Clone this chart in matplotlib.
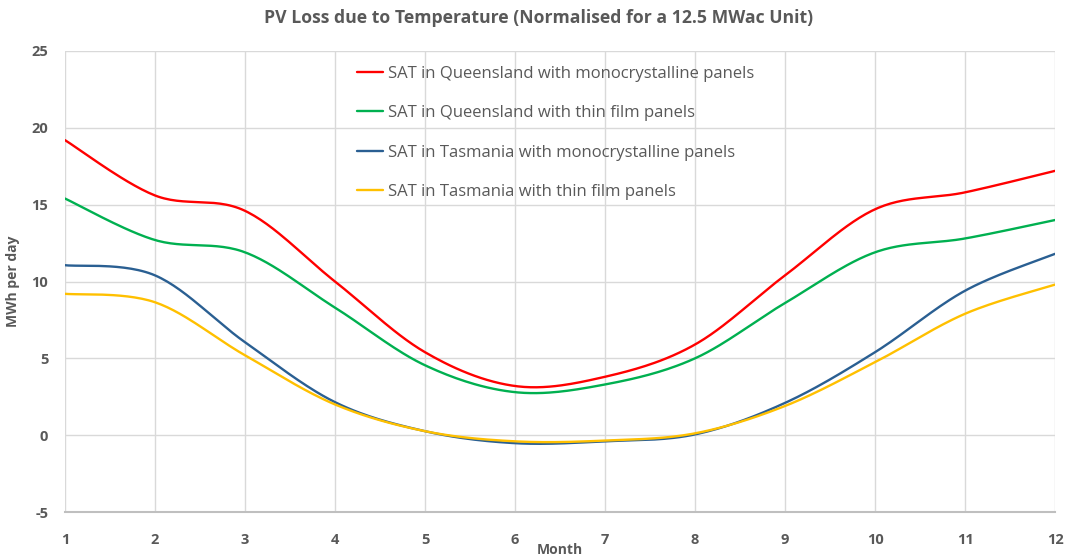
import numpy as np
import matplotlib
matplotlib.use('Agg')
import matplotlib.pyplot as plt

plt.rcParams['font.family'] = ['Open Sans', 'DejaVu Sans']
plt.rcParams['axes.unicode_minus'] = False

months = [1, 2, 3, 4, 5, 6, 7, 8, 9, 10, 11, 12]
qld_mono = [19.2, 15.6, 14.6, 10.0, 5.4, 3.2, 3.8, 5.9, 10.4, 14.7, 15.8, 17.2]
qld_thin = [15.4, 12.7, 11.9, 8.3, 4.55, 2.8, 3.3, 5.0, 8.6, 11.9, 12.8, 14.0]
tas_mono = [11.06, 10.4, 6.05, 2.15, 0.26, -0.52, -0.4, 0.05, 2.1, 5.4, 9.4, 11.8]
tas_thin = [9.2, 8.65, 5.2, 2.0, 0.26, -0.4, -0.35, 0.12, 1.9, 4.75, 7.9, 9.8]

labels = ['SAT in Queensland with monocrystalline panels',
          'SAT in Queensland with thin film panels',
          'SAT in Tasmania with monocrystalline panels',
          'SAT in Tasmania with thin film panels']
colors = ['#FF0000', '#00B050', '#2A5F92', '#FFC000']
series = [qld_mono, qld_thin, tas_mono, tas_thin]


def smooth(x, y, n=30):
    # excel-like smoothed line: bezier segments with catmull-rom control points
    x = np.asarray(x, float)
    y = np.asarray(y, float)
    p = np.column_stack([x, y])
    pts = []
    for i in range(len(p) - 1):
        p0 = p[i - 1] if i > 0 else p[i]
        p1 = p[i]
        p2 = p[i + 1]
        p3 = p[i + 2] if i + 2 < len(p) else p[i + 1]
        c1 = p1 + (p2 - p0) / 6.0
        c2 = p2 - (p3 - p1) / 6.0
        t = np.linspace(0, 1, n)[:, None]
        seg = ((1 - t) ** 3) * p1 + 3 * ((1 - t) ** 2) * t * c1 + 3 * (1 - t) * t ** 2 * c2 + t ** 3 * p2
        pts.append(seg if i == 0 else seg[1:])
    pts = np.vstack(pts)
    return pts[:, 0], pts[:, 1]


fig = plt.figure(figsize=(10.79, 5.56), dpi=100)
ax = fig.add_axes([0.0602, 0.0791, 0.9176, 0.8292])

for s, lab, col in zip(series, labels, colors):
    xs, ys = smooth(months, s)
    ax.plot(xs, ys, color=col, lw=1.7, label=lab, solid_capstyle='round')

ax.set_xlim(1, 12)
ax.set_ylim(-5, 25)
ax.set_xticks(months)
ax.set_yticks([-5, 0, 5, 10, 15, 20, 25])
ax.grid(True, color='#D9D9D9', lw=1.0)
ax.set_axisbelow(True)
for side in ['top', 'right', 'left']:
    ax.spines[side].set_visible(False)
ax.spines['bottom'].set_color('#BFBFBF')
ax.spines['bottom'].set_linewidth(1.5)
ax.tick_params(length=0, labelcolor='#595959', labelsize=10.5)
ax.tick_params(axis='x', pad=15)
ax.tick_params(axis='y', pad=12)
for t in ax.get_xticklabels() + ax.get_yticklabels():
    t.set_fontweight('bold')

ax.set_xlabel('Month', fontsize=10, fontweight='bold', color='#595959', labelpad=-3)
ax.set_ylabel('MWh per day', fontsize=10, fontweight='bold', color='#595959', labelpad=8)
fig.text(0.499, 0.967, 'PV Loss due to Temperature (Normalised for a 12.5 MWac Unit)',
         ha='center', va='center', fontsize=12.7, fontweight='bold', color='#595959')

leg = ax.legend(loc='upper left', bbox_to_anchor=(0.280, 1.0), frameon=False,
                fontsize=12, labelcolor='#595959', handlelength=1.55, handletextpad=0.3,
                labelspacing=1.4)

fig.savefig('out.png', dpi=100)
